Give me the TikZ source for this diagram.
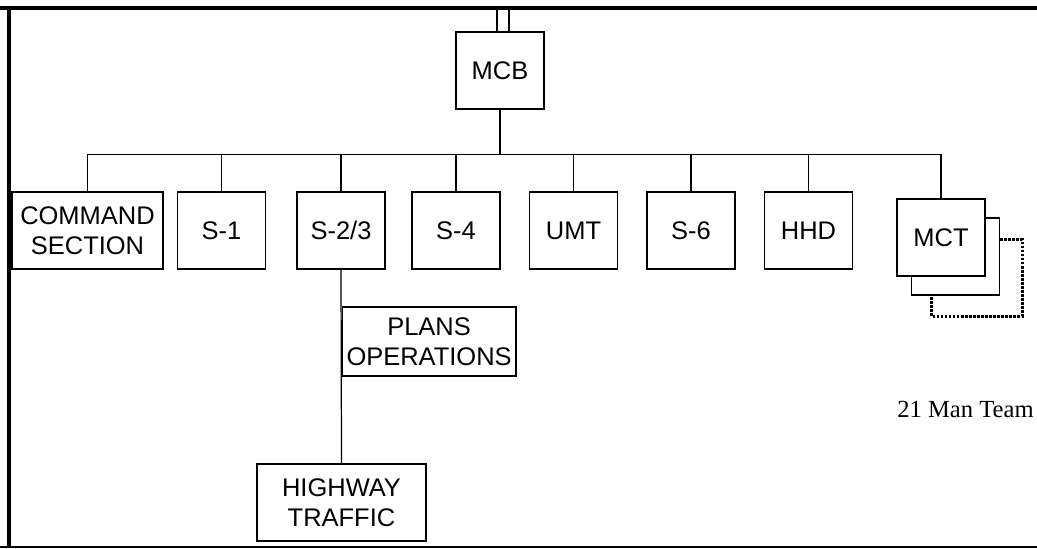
\documentclass[tikz,border=0pt]{standalone}
\usepackage{fontspec}
\setmainfont{Liberation Sans}
\newfontfamily\teamfont{Liberation Serif}
\usetikzlibrary{positioning}

\begin{document}
\begin{tikzpicture}[x=0.02cm, y=-0.02cm,
    box/.style={draw, rectangle, line width=0.7pt, minimum width=1.76cm, minimum height=1.54cm, inner sep=0pt, align=center, font=\fontsize{14.5}{16.8}\selectfont},
    wire/.style={line width=0.7pt},
    frame/.style={line width=2.3pt},
    teamline/.style={line width=1.8pt, dash pattern=on 1.5pt off 0.8pt}]
\useasboundingbox (0,0) rectangle (1037,548);
% Frame
\draw[frame] (0,8) -- (1037,8);
\draw[frame] (9,8) -- (9,548);
\draw[line width=1pt] (0,547) -- (1037,547);

% Top
\node[box] (mcb) at (500,70.5) {MCB};

% Row of sections
\node[box, minimum width=3.02cm] (cmd) at (87.5,230.5) {COMMAND\\SECTION};
\node[box] (sone) at (221.5,230.5) {S-1};
\node[box] (stwo) at (341,230.5) {S-2/3};
\node[box] (sfour) at (456,230.5) {S-4};
\node[box] (umt) at (573.5,230.5) {UMT};
\node[box] (ssix) at (691,230.5) {S-6};
\node[box] (hhd) at (808.5,230.5) {HHD};

% MCT with the team behind it
\node[box] (mctback) at (955.5,256.5) {};
\node[box, fill=white] (mct) at (941,237.5) {MCT};
\draw[teamline] ([yshift=-0.44cm]mctback.north east) -| ++(22,77) -| ([xshift=0.42cm]mctback.south west);

% Under S-2/3
\node[box, anchor=west, minimum width=3.48cm, minimum height=1.38cm] (plans) at (341.5,341.5) {PLANS\\OPERATIONS};
\node[box, minimum width=3.38cm] (hwy) at (341.5,502.5) {HIGHWAY\\TRAFFIC};

% Note
\node[font=\teamfont\fontsize{14}{16}\selectfont, anchor=base] (team) at (965.5,417) {21 Man Team};

% Lines
\draw[wire] ([xshift=-0.06cm]mcb.north) -- ++(0,-23);
\draw[wire] ([xshift=0.18cm]mcb.north) -- ++(0,-23);
\draw[wire] (mcb.south) -- ++(0,45) coordinate (bus);
\foreach \n in {cmd,sone,stwo,sfour,umt,ssix,hhd,mct}
    \draw[wire] (\n.north) |- (bus);
\draw[wire] (stwo.south) -- (hwy.north);

\end{tikzpicture}
\end{document}
